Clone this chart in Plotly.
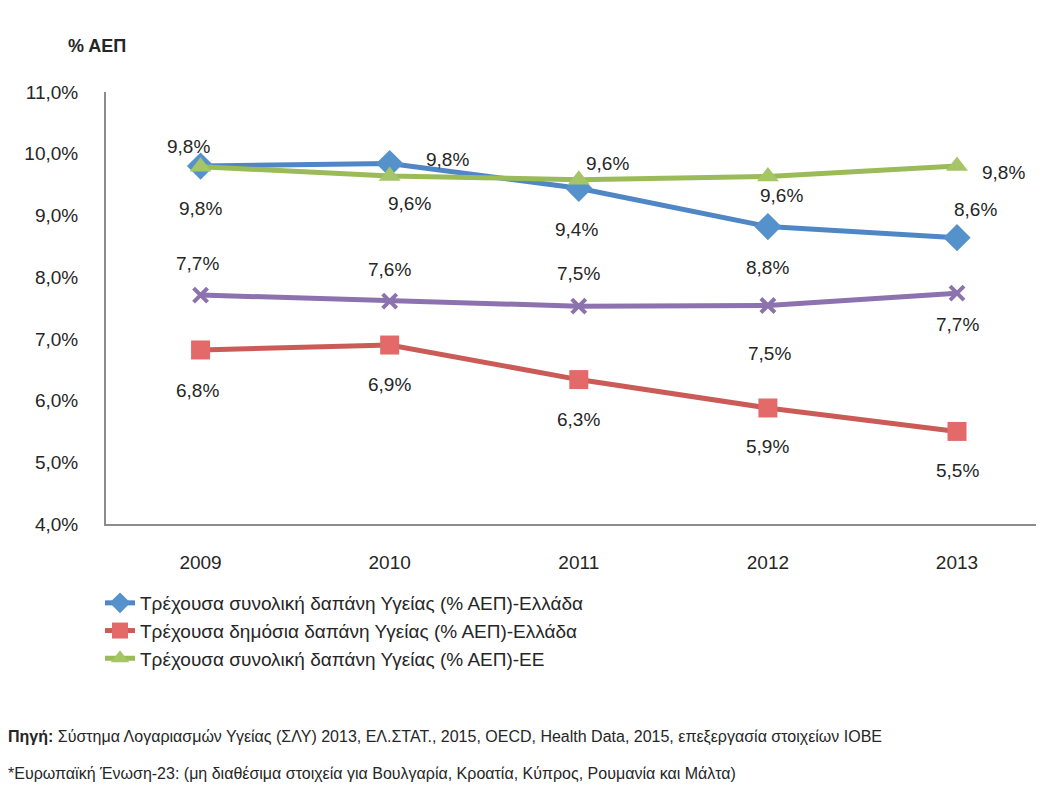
import plotly.graph_objects as go

years = ["2009", "2010", "2011", "2012", "2013"]
total_gr = [9.80, 9.84, 9.44, 8.82, 8.64]
public_gr = [6.82, 6.90, 6.34, 5.88, 5.50]
total_eu = [9.79, 9.64, 9.58, 9.63, 9.80]
public_eu = [7.71, 7.61, 7.53, 7.54, 7.74]

names = [
    "Τρέχουσα συνολική δαπάνη Υγείας (% ΑΕΠ)-Ελλάδα",
    "Τρέχουσα δημόσια δαπάνη Υγείας (% ΑΕΠ)-Ελλάδα",
    "Τρέχουσα συνολική δαπάνη Υγείας (% ΑΕΠ)-ΕΕ",
    "Τρέχουσα δημόσια δαπάνη Υγείας (% ΑΕΠ)-ΕΕ",
]

# label offsets (pixels: dx right, dy down) per point
off_total_gr = [(-12, -20), (58, -4), (-2, 41), (0, 41), (18, -28)]
off_public_gr = [(-3, 41), (0, 39), (0, 40), (0, 39), (0, 39)]
off_total_eu = [(0, 42), (20, 28), (29, -16), (14, 19), (46, 6)]
off_public_eu = [(-3, -32), (0, -32), (0, -33), (2, 48), (0, 31)]

FONT = "Liberation Sans, Arial, sans-serif"
TXT = "#262626"

# page body has an 8px default margin: figure is drawn offset by it
OFF = 8
SW, SH = 1044, 799
W, H = SW - OFF, SH - OFF
# plot area in screen pixels
PL, PR, PT, PB = 106, 1044, 92, 524
ML, MR, MT, MB = PL - OFF, SW - PR, PT - OFF, SH - PB
PW, PH = W - ML - MR, H - MT - MB


def px_x(px):
    return (px - PL) / PW


def px_y(py):
    return (PB - py) / PH


series = [
    (total_gr, names[0], "#4F86C6", "#5592CB", "diamond", 21, off_total_gr, True),
    (public_gr, names[1], "#CB5B57", "#E46A6A", "square", 19, off_public_gr, True),
    (total_eu, names[2], "#9BBB59", "#A5C566", "triangle-up", 19, off_total_eu, True),
    (public_eu, names[3], "#8C72AE", "#8C72AE", "x-thin", 14, off_public_eu, False),
]

fig = go.Figure()
annotations = []
for vals, name, lc, mc, sym, ms, offs, show in series:
    fig.add_trace(go.Scatter(
        x=years, y=vals, name=name, mode="lines+markers",
        line=dict(color=lc, width=5),
        marker=dict(symbol=sym, size=ms, color=mc,
                    line=dict(color=mc, width=4 if sym == "x-thin" else 0)),
        showlegend=show,
    ))
    for i, (yv, (dx, dy)) in enumerate(zip(vals, offs)):
        annotations.append(dict(
            x=i, y=yv, xref="x", yref="y",
            text=f"{yv:.1f}".replace(".", ",") + "%",
            showarrow=False, xshift=dx, yshift=-dy,
            font=dict(family=FONT, size=19, color=TXT),
        ))

annotations.append(dict(
    x=px_x(97), y=px_y(46), xref="paper", yref="paper",
    text="<b>% ΑΕΠ</b>", showarrow=False, xanchor="center", yanchor="middle",
    font=dict(family=FONT, size=18, color=TXT),
))
annotations.append(dict(
    x=px_x(6), y=px_y(737), xref="paper", yref="paper",
    text="<b>Πηγή:</b> Σύστημα Λογαριασμών Υγείας (ΣΛΥ) 2013, ΕΛ.ΣΤΑΤ., 2015, OECD, Health Data, 2015, επεξεργασία στοιχείων ΙΟΒΕ",
    showarrow=False, xanchor="left", yanchor="middle",
    font=dict(family=FONT, size=16, color=TXT),
))
annotations.append(dict(
    x=px_x(6), y=px_y(773), xref="paper", yref="paper",
    text="*Ευρωπαϊκή Ένωση-23: (μη διαθέσιμα στοιχεία για Βουλγαρία, Κροατία, Κύπρος, Ρουμανία και Μάλτα)",
    showarrow=False, xanchor="left", yanchor="middle",
    font=dict(family=FONT, size=16, color=TXT),
))
fig.layout.annotations = annotations

fig.update_layout(
    width=W, height=H,
    margin=dict(l=ML, r=MR, t=MT, b=MB, autoexpand=False),
    plot_bgcolor="white", paper_bgcolor="white",
    separators=",.",
    font=dict(family=FONT, size=19, color=TXT),
    legend=dict(
        x=px_x(100), y=px_y(584), xref="paper", yref="paper",
        xanchor="left", yanchor="top",
        font=dict(family=FONT, size=19, color=TXT),
        tracegroupgap=0, itemwidth=30,
        bgcolor="rgba(0,0,0,0)",
    ),
    xaxis=dict(
        type="category", range=[-0.5, 4.46],
        showline=True, linecolor="#8C8C8C", linewidth=2,
        showgrid=False, ticks="", ticklabelstandoff=20,
        tickfont=dict(family=FONT, size=19, color=TXT),
    ),
    yaxis=dict(
        range=[4, 11], dtick=1, tick0=4, tickformat=".1f", ticksuffix="%",
        showline=True, linecolor="#8C8C8C", linewidth=2,
        showgrid=False, zeroline=False, ticks="", ticklabelstandoff=22,
        tickfont=dict(family=FONT, size=19, color=TXT),
    ),
)

fig.write_html("out.html")
